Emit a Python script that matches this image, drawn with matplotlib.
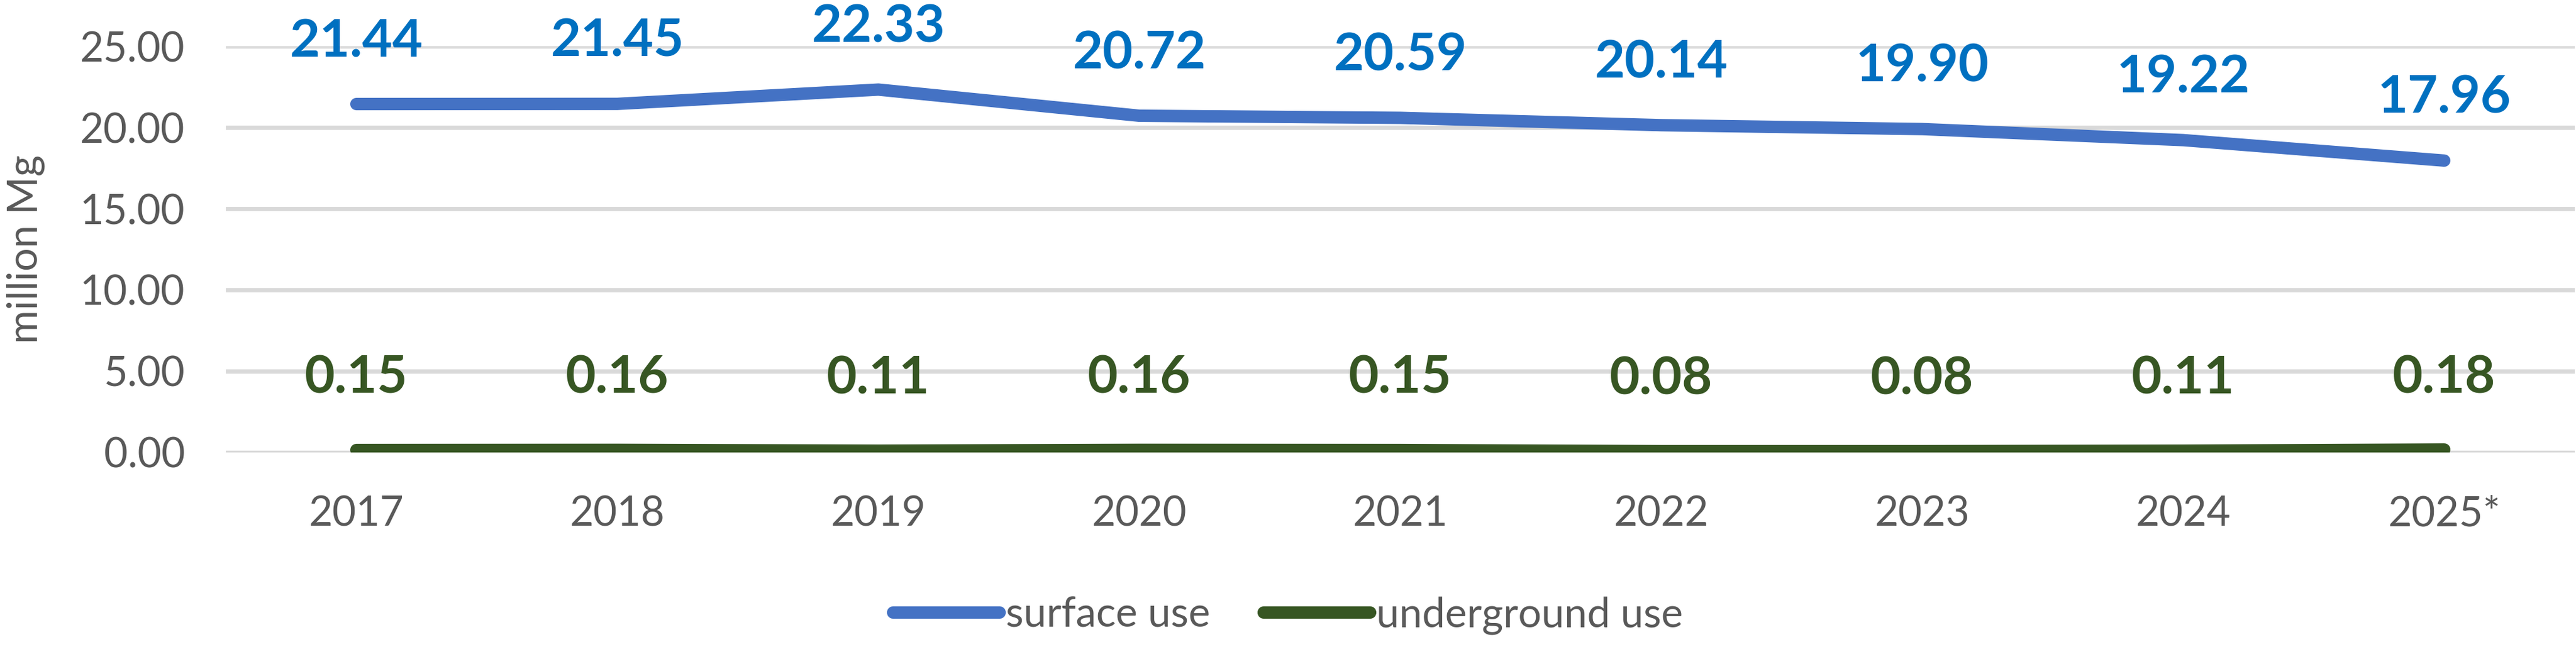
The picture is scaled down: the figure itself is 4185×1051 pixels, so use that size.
import numpy as np
import matplotlib
matplotlib.use("Agg")
import matplotlib.pyplot as plt

years = ["2017", "2018", "2019", "2020", "2021", "2022", "2023", "2024", "2025*"]
surface_use = [21.44, 21.45, 22.33, 20.72, 20.59, 20.14, 19.90, 19.22, 17.96]
underground_use = [0.15, 0.16, 0.11, 0.16, 0.15, 0.08, 0.08, 0.11, 0.18]

plt.rcParams['font.family'] = ['Lato', 'DejaVu Sans']

fig = plt.figure(figsize=(41.85, 10.51), dpi=100)
ax = fig.add_axes([0.0877, 0.3007, 0.9118, 0.6279])

x = np.arange(len(years))
ax.plot(x, surface_use, color='#4472C4', lw=14.5, solid_capstyle='round',
        solid_joinstyle='round', label='surface use', zorder=3)
ax.plot(x, underground_use, color='#375623', lw=14.5, solid_capstyle='round',
        solid_joinstyle='round', label='underground use', zorder=3)

# etykiety danych nad punktami
for xi, v in zip(x, surface_use):
    ax.annotate(f"{v:.2f}", (xi, v), xytext=(0, 73), textcoords='offset points',
                ha='center', va='center', fontsize=61, fontweight='bold',
                color='#0070C0', zorder=4)
for xi, v in zip(x, underground_use):
    ax.annotate(f"{v:.2f}", (xi, v), xytext=(0, 84), textcoords='offset points',
                ha='center', va='center', fontsize=61, fontweight='bold',
                color='#375623', zorder=4)

ax.set_xlim(-0.5, len(years) - 0.5)
ax.set_ylim(0, 25)
ax.set_yticks(np.arange(0, 26, 5))
ax.set_yticklabels([f"{t:.2f}" for t in np.arange(0, 26, 5)])
ax.set_xticks(x)
ax.set_xticklabels(years)
ax.tick_params(axis='both', length=0, labelsize=48, colors='#595959')
ax.tick_params(axis='y', pad=48)
ax.tick_params(axis='x', pad=50)
ax.grid(axis='y', color='#D9D9D9', lw=5, zorder=0)
ax.set_axisbelow(True)
for s in ax.spines.values():
    s.set_visible(False)

ax.set_ylabel('million Mg', fontsize=48, color='#595959')
ax.yaxis.set_label_coords(-0.077, 0.5)

fig.legend(loc='center', bbox_to_anchor=(0.5, 0.0485), ncol=2, frameon=False,
           fontsize=48, handlelength=2.6, handletextpad=0.15, columnspacing=1.3,
           labelcolor='#595959')

fig.savefig('out.png', dpi=100)
